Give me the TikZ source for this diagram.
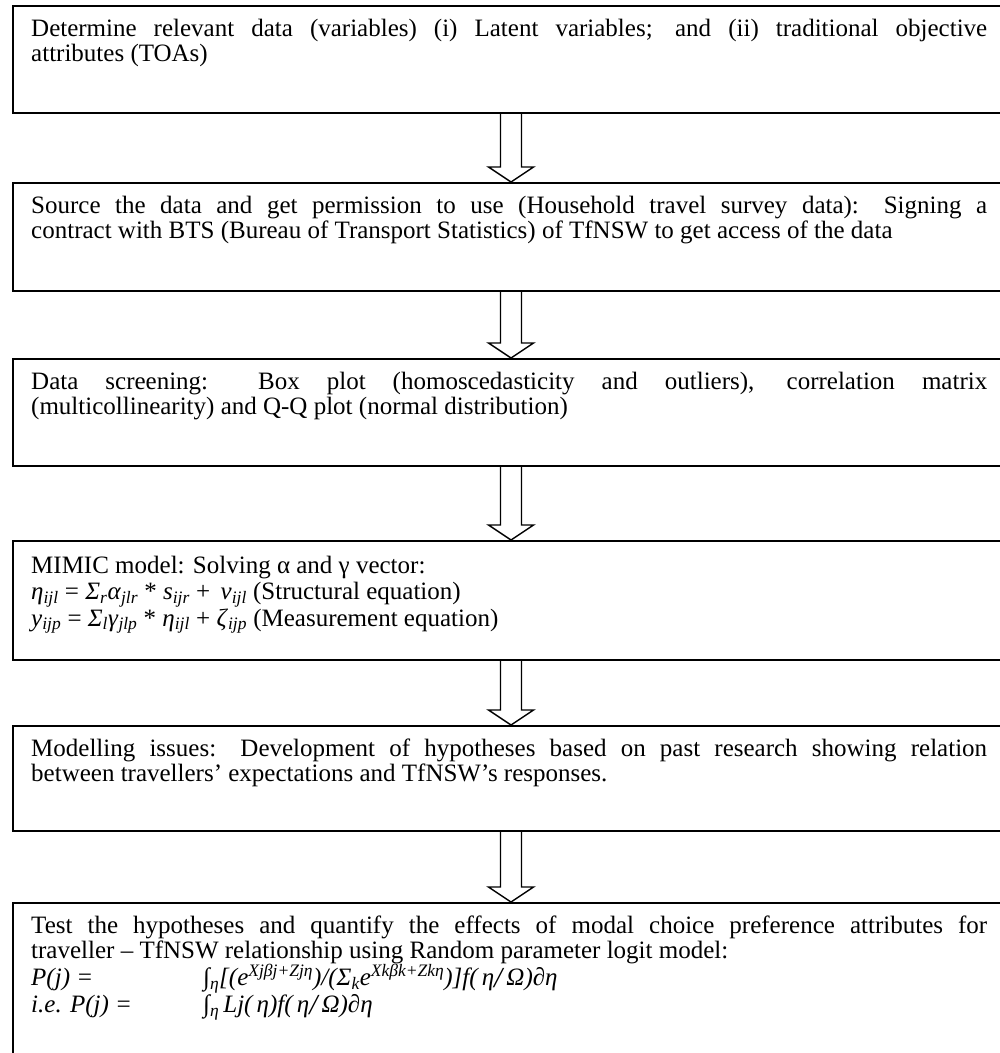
\documentclass[tikz,border=0pt]{standalone}
\usepackage{fontspec}
\setmainfont{Liberation Serif}
\usetikzlibrary{calc}
\hyphenpenalty=10000
\exhyphenpenalty=10000
\lineskiplimit=-100pt
\newcommand\bigdownarrow[2]{%
  \draw[arr] ($(#1.south -| ax)+(-10.5,0)$) -- ($(#2.north -| ax)+(-10.5,-15)$)
    -- ++(-12,0) -- (#2.north -| ax) -- ++(22.5,-15) -- ++(-12,0)
    -- ($(#1.south -| ax)+(10.5,0)$);}
\newcommand\isub[1]{\textsubscript{\textit{#1}}}
\newcommand\isup[1]{\textsuperscript{\textit{#1}}}
\newcommand\bigslash{{\fontsize{29}{25}\selectfont\raisebox{-2pt}{/}}}
\newcommand\firststrut{\rule{0pt}{24pt}}
\begin{document}
\begin{tikzpicture}[x=1pt,y=-1pt,
  box/.style={draw, line width=1.8pt, inner sep=0pt, minimum width=995pt, anchor=north west},
  txt/.style={inner sep=0pt, anchor=north west, text width=956pt, align=justify,
    font=\fontsize{25}{25}\selectfont},
  arr/.style={draw, line width=1.4pt, line join=miter}]
\useasboundingbox (0,0) rectangle (1000,1053);
\clip (0,0) rectangle (1000,1053);
\fill[white] (0,0) rectangle (1000,1053);
\coordinate (ax) at (511,0);

\node[box, minimum height=107pt] (b1) at (12,5) {};
\node[box, minimum height=108pt] (b2) at (12,182) {};
\node[box, minimum height=107pt] (b3) at (12,358) {};
\node[box, minimum height=119pt] (b4) at (12,540) {};
\node[box, minimum height=105pt] (b5) at (12,725) {};
\node[box, minimum height=170pt] (b6) at (12,902) {};

\node[txt] (t1) at ($(b1.north west)+(19,7)$)
 {\firststrut Determine relevant data (variables) (i) Latent variables; and (ii) traditional objective\linebreak attributes (TOAs)};
\node[txt] (t2) at ($(b2.north west)+(19,7)$)
 {\firststrut Source the data and get permission to use (Household travel survey data): Signing a\linebreak contract with BTS (Bureau of Transport Statistics) of TfNSW to get access of the data};
\node[txt] (t3) at ($(b3.north west)+(19,7)$)
 {\firststrut Data screening: Box plot (homoscedasticity and outliers), correlation matrix\linebreak (multicollinearity) and Q-Q plot (normal distribution)};
\node[txt, font=\fontsize{25}{26.5}\selectfont] (t4) at ($(b4.north west)+(19,9)$)
 {\firststrut MIMIC model: Solving α and γ vector:\\
  \textit{η}\isub{ijl} = \textit{Σ}\isub{r}\textit{α}\isub{jlr} * \textit{s}\isub{ijr} + \,\textit{ν}\isub{ijl} (Structural equation)\\
  \textit{y}\isub{ijp} = \textit{Σ}\isub{l}\textit{γ}\isub{jlp} * \textit{η}\isub{ijl} + \textit{ζ}\isub{ijp} (Measurement equation)};
\node[txt] (t5) at ($(b5.north west)+(19,7)$)
 {\firststrut Modelling issues: Development of hypotheses based on past research showing relation\linebreak between travellers’ expectations and TfNSW’s responses.};
\node[txt] (t6) at ($(b6.north west)+(19,7)$)
 {\firststrut Test the hypotheses and quantify the effects of modal choice preference attributes for\linebreak traveller – TfNSW relationship using Random parameter logit model:\\
  \makebox[172pt][l]{\textit{P(j) =}}\textit{∫\isub{η}[(e\isup{Xjβj+Zjη})/(Σ\isub{k}e\isup{Xkβk+Zkη})]f(\,η\bigslash\,Ω)∂η}\\
  \makebox[172pt][l]{\textit{i.e. P(j) =}}\textit{∫\isub{η}\,Lj(\,η)f(\,η\bigslash\,Ω)∂η}};

\bigdownarrow{b1}{b2}
\bigdownarrow{b2}{b3}
\bigdownarrow{b3}{b4}
\bigdownarrow{b4}{b5}
\bigdownarrow{b5}{b6}
\end{tikzpicture}
\end{document}
